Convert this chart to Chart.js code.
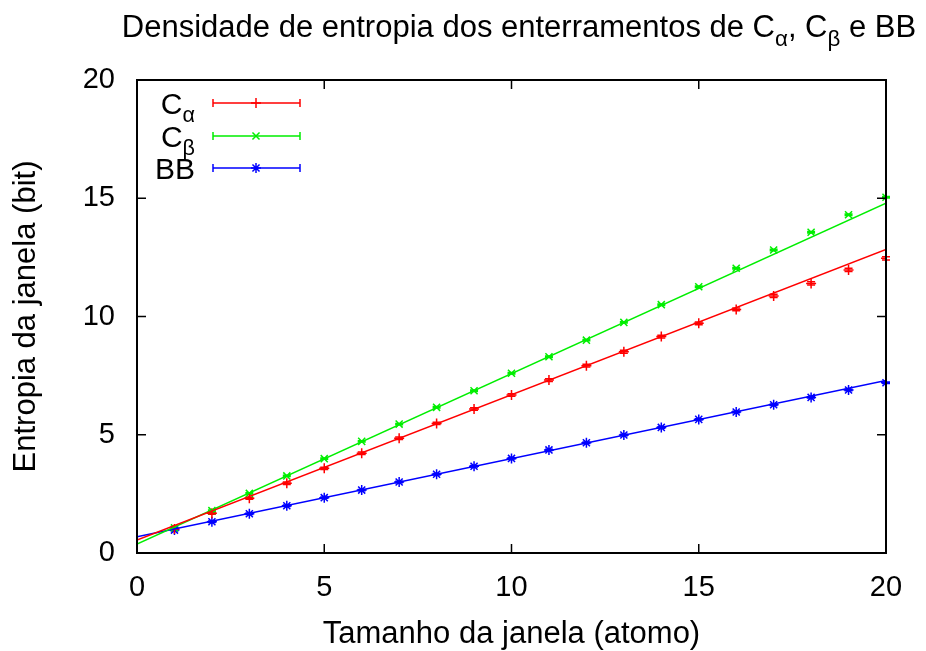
<!DOCTYPE html>
<html lang="pt">
<head>
<meta charset="UTF-8">
<title>Densidade de entropia dos enterramentos</title>
<script src="https://cdn.jsdelivr.net/npm/chart.js"></script>
<style>
  html, body { margin: 0; padding: 0; background: #fff; }
  #wrap { width: 926px; height: 651px; }
</style>
</head>
<body>
<div id="wrap"><canvas id="entropyChart" width="926" height="651"></canvas></div>
<script>
// window size (atoms)
const windowSizes = [1, 2, 3, 4, 5, 6, 7, 8, 9, 10, 11, 12, 13, 14, 15, 16, 17, 18, 19, 20];

// measured entropy (bit) per window size
const entropyCa = [1.02, 1.68, 2.31, 2.95, 3.58, 4.22, 4.85, 5.48, 6.09, 6.68,
                   7.31, 7.92, 8.51, 9.15, 9.71, 10.30, 10.87, 11.40, 11.97, 12.46];
const entropyCb = [1.06, 1.79, 2.52, 3.26, 3.99, 4.72, 5.45, 6.16, 6.86, 7.60,
                   8.30, 9.00, 9.75, 10.50, 11.26, 12.04, 12.81, 13.56, 14.30, 15.04];
const entropyBB = [0.97, 1.32, 1.66, 2.00, 2.34, 2.66, 3.00, 3.33, 3.67, 4.00,
                   4.36, 4.66, 4.99, 5.31, 5.65, 5.96, 6.27, 6.58, 6.89, 7.20];

// error bar half-widths
const errCa = [0.04, 0.04, 0.04, 0.05, 0.05, 0.05, 0.05, 0.05, 0.05, 0.05,
               0.06, 0.06, 0.06, 0.06, 0.06, 0.06, 0.07, 0.07, 0.07, 0.07];
const errCb = [0.03, 0.03, 0.03, 0.03, 0.03, 0.03, 0.03, 0.03, 0.03, 0.03,
               0.03, 0.03, 0.03, 0.03, 0.03, 0.03, 0.03, 0.03, 0.03, 0.03];
const errBB = [0.03, 0.03, 0.03, 0.03, 0.03, 0.03, 0.03, 0.03, 0.03, 0.03,
               0.03, 0.03, 0.03, 0.03, 0.03, 0.03, 0.03, 0.03, 0.03, 0.03];

// linear fits, value at each end of the x range
const fitX = [0, 20];
const fitCa = [0.55, 12.84];
const fitCb = [0.38, 14.79];
const fitBB = [0.69, 7.29];

const xTicks = [0, 5, 10, 15, 20];
const yTicks = [0, 5, 10, 15, 20];

const RED = '#ff0000', GREEN = '#00ee00', BLUE = '#0000ff';
const FONT = '"Liberation Sans", Arial, Helvetica, sans-serif';

const pts = ys => windowSizes.map((x, i) => ({ x: x, y: ys[i] }));
const fit = ys => fitX.map((x, i) => ({ x: x, y: ys[i] }));

const series = [
  { label: 'Cα', color: RED, style: 'cross', data: entropyCa, err: errCa, fit: fitCa },
  { label: 'Cβ', color: GREEN, style: 'crossRot', data: entropyCb, err: errCb, fit: fitCb },
  { label: 'BB', color: BLUE, style: 'star', data: entropyBB, err: errBB, fit: fitBB }
];

const datasets = [];
series.forEach(s => {
  datasets.push({
    label: s.label + ' fit',
    data: fit(s.fit),
    showLine: true,
    borderColor: s.color,
    borderWidth: 1.5,
    pointRadius: 0,
    fill: false
  });
});
series.forEach(s => {
  datasets.push({
    label: s.label,
    data: pts(s.data),
    showLine: false,
    pointStyle: s.style,
    pointRadius: 5,
    borderColor: s.color,
    backgroundColor: s.color,
    pointBorderWidth: 1.5,
    errors: s.err
  });
});

// draws "C" + subscript greek runs; parts = [[text, isSub], ...]
function richWidth(ctx, parts, size) {
  let w = 0;
  parts.forEach(p => {
    ctx.font = (p[1] ? size * 0.72 : size) + 'px ' + FONT;
    w += ctx.measureText(p[0]).width;
  });
  return w;
}
function drawRich(ctx, parts, x, y, size, align) {
  const w = richWidth(ctx, parts, size);
  let cx = align === 'right' ? x - w : align === 'center' ? x - w / 2 : x;
  ctx.textAlign = 'left';
  ctx.textBaseline = 'alphabetic';
  parts.forEach(p => {
    ctx.font = (p[1] ? size * 0.72 : size) + 'px ' + FONT;
    ctx.fillText(p[0], cx, p[1] ? y + size * 0.28 : y);
    cx += ctx.measureText(p[0]).width;
  });
}

const gnuplotFrame = {
  id: 'gnuplotFrame',
  beforeDatasetsDraw(chart) {
    // error bars under the markers
    const ctx = chart.ctx, xs = chart.scales.x, ys = chart.scales.y;
    ctx.save();
    ctx.lineWidth = 1.5;
    chart.data.datasets.forEach(ds => {
      if (!ds.errors) return;
      ctx.strokeStyle = ds.borderColor;
      ds.data.forEach((p, i) => {
        const px = xs.getPixelForValue(p.x);
        const lo = ys.getPixelForValue(p.y - ds.errors[i]);
        const hi = ys.getPixelForValue(p.y + ds.errors[i]);
        ctx.beginPath();
        ctx.moveTo(px, lo); ctx.lineTo(px, hi);
        ctx.moveTo(px - 4, lo); ctx.lineTo(px + 4, lo);
        ctx.moveTo(px - 4, hi); ctx.lineTo(px + 4, hi);
        ctx.stroke();
      });
    });
    ctx.restore();
  },
  afterDraw(chart) {
    const ctx = chart.ctx, a = chart.chartArea;
    const xs = chart.scales.x, ys = chart.scales.y;
    ctx.save();
    ctx.fillStyle = '#000';
    ctx.strokeStyle = '#000';

    // border box
    ctx.lineWidth = 2;
    ctx.strokeRect(a.left, a.top, a.right - a.left, a.bottom - a.top);

    // inward ticks, mirrored
    const tl = 9;
    ctx.lineWidth = 1.5;
    ctx.beginPath();
    xTicks.forEach(v => {
      const px = xs.getPixelForValue(v);
      ctx.moveTo(px, a.bottom); ctx.lineTo(px, a.bottom - tl);
      ctx.moveTo(px, a.top); ctx.lineTo(px, a.top + tl);
    });
    yTicks.forEach(v => {
      const py = ys.getPixelForValue(v);
      ctx.moveTo(a.left, py); ctx.lineTo(a.left + tl, py);
      ctx.moveTo(a.right, py); ctx.lineTo(a.right - tl, py);
    });
    ctx.stroke();

    // title
    drawRich(ctx, [['Densidade de entropia dos enterramentos de C', false], ['α', true],
                   [', C', false], ['β', true], [' e BB', false]], 519, 37, 31, 'center');

    // axis titles
    ctx.font = '31px ' + FONT;
    ctx.textAlign = 'center';
    ctx.textBaseline = 'alphabetic';
    ctx.fillText('Tamanho da janela (atomo)', (a.left + a.right) / 2, 643);
    ctx.save();
    ctx.translate(35, (a.top + a.bottom) / 2);
    ctx.rotate(-Math.PI / 2);
    ctx.fillText('Entropia da janela (bit)', 0, 0);
    ctx.restore();

    // legend: label, sample line with error bar caps, marker
    const rows = [
      { parts: [['C', false], ['α', true]], y: 103 },
      { parts: [['C', false], ['β', true]], y: 136 },
      { parts: [['BB', false]], y: 168 }
    ];
    rows.forEach((r, i) => {
      const s = series[i];
      ctx.fillStyle = '#000';
      drawRich(ctx, r.parts, 195, r.y + 11, 30, 'right');
      ctx.strokeStyle = s.color;
      ctx.lineWidth = 1.5;
      ctx.beginPath();
      ctx.moveTo(213, r.y); ctx.lineTo(300, r.y);
      ctx.moveTo(213, r.y - 4); ctx.lineTo(213, r.y + 4);
      ctx.moveTo(300, r.y - 4); ctx.lineTo(300, r.y + 4);
      ctx.stroke();
      Chart.helpers.drawPoint(ctx, { pointStyle: s.style, radius: 5, borderWidth: 1.5 }, 256, r.y);
    });
    ctx.restore();
  }
};

new Chart(document.getElementById('entropyChart').getContext('2d'), {
  type: 'scatter',
  data: { datasets: datasets },
  plugins: [gnuplotFrame],
  options: {
    responsive: false,
    animation: false,
    layout: { padding: { top: 80, right: 40, left: 0, bottom: 0 } },
    plugins: {
      legend: { display: false },
      tooltip: { enabled: false },
      title: { display: false }
    },
    scales: {
      x: {
        type: 'linear',
        min: 0,
        max: 20,
        afterFit: s => { s.height = 98; },
        afterBuildTicks: s => { s.ticks = xTicks.map(v => ({ value: v })); },
        grid: { display: false, drawTicks: false },
        border: { display: false },
        ticks: { color: '#000', padding: 18, maxRotation: 0, font: { family: FONT, size: 29 } }
      },
      y: {
        type: 'linear',
        min: 0,
        max: 20,
        afterFit: s => { s.width = 137; },
        afterBuildTicks: s => { s.ticks = yTicks.map(v => ({ value: v })); },
        grid: { display: false, drawTicks: false },
        border: { display: false },
        ticks: { color: '#000', padding: 22, font: { family: FONT, size: 29 } }
      }
    }
  }
});
</script>
</body>
</html>
